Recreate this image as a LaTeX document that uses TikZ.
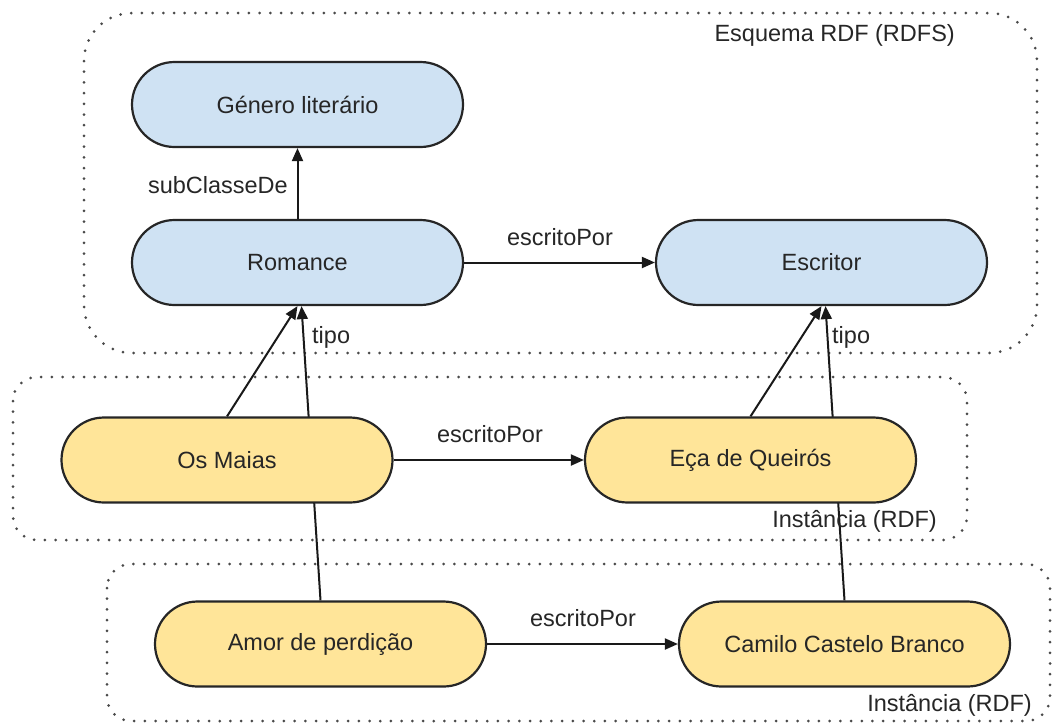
\documentclass[tikz,border=0pt]{standalone}
\usepackage{fontspec}
\setmainfont{Liberation Sans}
\usetikzlibrary{arrows.meta,shapes.misc}
\definecolor{classblue}{HTML}{CFE2F3}
\definecolor{instyellow}{HTML}{FFE599}
\definecolor{txt}{HTML}{262626}
\definecolor{dotgray}{HTML}{4A4A4A}
\pgfdeclarelayer{bg}
\pgfsetlayers{bg,main}
\tikzset{
  pill/.style={rounded rectangle, draw=black!85, line width=2.2pt, minimum width=331pt, minimum height=85pt, inner sep=0pt, text=txt, font=\fontsize{23.5}{28}\selectfont},
  classnode/.style={pill, fill=classblue},
  instnode/.style={pill, fill=instyellow},
  lbl/.style={inner sep=0pt, text=txt, font=\fontsize{23.5}{28}\selectfont},
  conn/.style={line width=2pt, draw=black!90, -{Triangle[length=13pt,width=11pt]}},
  region/.style={draw=dotgray, line width=3pt, dash pattern=on 0pt off 10.7pt, line cap=round}
}
\begin{document}
\begin{tikzpicture}[x=1pt,y=-1pt]
\useasboundingbox (0,0) rectangle (1052,724);
% nodes
\node[classnode] (gen) at (297.5,104.5) {Género literário};
\node[classnode] (rom) at (297.5,262.5) {Romance};
\node[classnode] (esc) at (821.5,262.5) {Escritor};
\node[instnode] (mai) at (227,460) {Os Maias};
\node[instnode] (eca) at (750.5,460) {Eça de Queirós};
\node[instnode] (amor) at (320.5,644) {Amor de perdição};
\node[instnode] (cam) at (844.5,644) {Camilo Castelo Branco};
% region labels
\node[lbl, anchor=east] (schemalbl) at (955,35) {Esquema RDF (RDFS)};
\node[lbl, anchor=east] (inst1lbl) at (937,521) {Instância (RDF)};
\node[lbl, anchor=east] (inst2lbl) at (1032,705) {Instância (RDF)};
% edge labels
\node[lbl, anchor=east] (l1) at (288,185) {subClasseDe};
\node[lbl] (l2) at (560,237) {escritoPor};
\node[lbl, anchor=west] (l3) at (312,337) {tipo};
\node[lbl, anchor=west] (l4) at (832,337) {tipo};
\node[lbl] (l5) at (490,434) {escritoPor};
\node[lbl] (l6) at (583,618) {escritoPor};
\begin{pgfonlayer}{bg}
  \draw[region, rounded corners=48pt] (84,13) rectangle (1037,353);
  \draw[region, rounded corners=24pt] (13,377) rectangle (967,540);
  \draw[region, rounded corners=24pt] (107,564) rectangle (1050,721);
  \draw[conn] (rom.north) -- (gen.south);
  \draw[conn] (rom.east) -- (esc.west);
  \draw[conn] (mai.north) -- (rom.south);
  \draw[conn] (amor.north) -- ([xshift=4pt]rom.south);
  \draw[conn] (mai.east) -- (eca.west);
  \draw[conn] (eca.north) -- (esc.south);
  \draw[conn] (cam.north) -- ([xshift=4pt]esc.south);
  \draw[conn] (amor.east) -- (cam.west);
\end{pgfonlayer}
\end{tikzpicture}
\end{document}
